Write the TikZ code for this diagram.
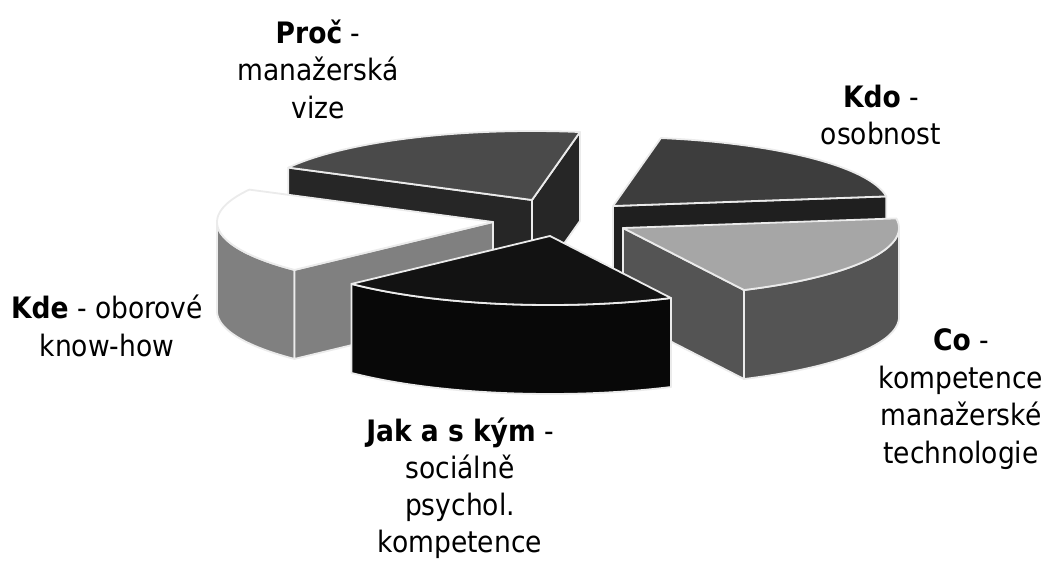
\documentclass[tikz,border=0pt]{standalone}
\usepackage{fontspec}
\setmainfont{DejaVu Sans Condensed}
\begin{document}
\begin{tikzpicture}[x=1pt,y=-1pt,
  pieedge/.style={draw=black!8,line width=1.8pt,line join=round},
  kdotop/.style={pieedge,fill=black!76},
  kdoside/.style={pieedge,fill=black!88},
  proctop/.style={pieedge,fill=black!71},
  procside/.style={pieedge,fill=black!85},
  kdetop/.style={pieedge,fill=white},
  kdeside/.style={pieedge,fill=black!50},
  jaktop/.style={pieedge,fill=black!93},
  jakside/.style={pieedge,fill=black!97},
  cotop/.style={pieedge,fill=black!35},
  coside/.style={pieedge,fill=black!67},
  lbl/.style={align=center,font=\fontsize{29.5}{37.5}\selectfont,inner sep=0pt}
]
\useasboundingbox (0,0) rectangle (1048,561);
\def\rx{276}\def\ry{69}\def\hh{89}
% ---- Proc (80..152), apex (532,200)
\filldraw[procside] (532,200) -- ({532+\rx*cos(80)},{200-\ry*sin(80)}) -- ({532+\rx*cos(80)},{200+\hh-\ry*sin(80)}) -- (532,200+\hh) -- cycle;
\filldraw[procside] (532,200) -- ({532+\rx*cos(152)},{200-\ry*sin(152)}) -- ({532+\rx*cos(152)},{200+\hh-\ry*sin(152)}) -- (532,200+\hh) -- cycle;
\filldraw[proctop] (532,200) -- plot[domain=80:152,samples=40] ({532+\rx*cos(\x)},{200-\ry*sin(\x)}) -- cycle;
% ---- Kdo (8..80), apex (613,206)
\filldraw[kdoside] (613,206) -- ({613+\rx*cos(8)},{206-\ry*sin(8)}) -- ({613+\rx*cos(8)},{206+\hh-\ry*sin(8)}) -- (613,206+\hh) -- cycle;
\filldraw[kdotop] (613,206) -- plot[domain=8:80,samples=40] ({613+\rx*cos(\x)},{206-\ry*sin(\x)}) -- cycle;
% ---- Kde (152..224), apex (493,222)
\filldraw[kdeside] plot[domain=180:224,samples=30] ({493+\rx*cos(\x)},{222-\ry*sin(\x)}) -- plot[domain=224:180,samples=30] ({493+\rx*cos(\x)},{222+\hh-\ry*sin(\x)}) -- cycle;
\filldraw[kdeside] (493,222) -- ({493+\rx*cos(224)},{222-\ry*sin(224)}) -- ({493+\rx*cos(224)},{222+\hh-\ry*sin(224)}) -- (493,222+\hh) -- cycle;
\filldraw[kdetop] (493,222) -- plot[domain=152:224,samples=40] ({493+\rx*cos(\x)},{222-\ry*sin(\x)}) -- cycle;
% ---- Co (296..368), apex (623,228)
\filldraw[coside] plot[domain=296:360,samples=40] ({623+\rx*cos(\x)},{228-\ry*sin(\x)}) -- plot[domain=360:296,samples=40] ({623+\rx*cos(\x)},{228+\hh-\ry*sin(\x)}) -- cycle;
\filldraw[coside] (623,228) -- ({623+\rx*cos(296)},{228-\ry*sin(296)}) -- ({623+\rx*cos(296)},{228+\hh-\ry*sin(296)}) -- (623,228+\hh) -- cycle;
\filldraw[cotop] (623,228) -- plot[domain=296:368,samples=40] ({623+\rx*cos(\x)},{228-\ry*sin(\x)}) -- cycle;
% ---- Jak a s kym (224..296), apex (550,236)
\filldraw[jakside] plot[domain=224:296,samples=40] ({550+\rx*cos(\x)},{236-\ry*sin(\x)}) -- plot[domain=296:224,samples=40] ({550+\rx*cos(\x)},{236+\hh-\ry*sin(\x)}) -- cycle;
\filldraw[jaktop] (550,236) -- plot[domain=224:296,samples=40] ({550+\rx*cos(\x)},{236-\ry*sin(\x)}) -- cycle;
% ---- labels
\node[lbl] (proc) at (318,69) {\textbf{Proč} -\\manažerská\\vize};
\node[lbl] (kdo) at (881,115) {\textbf{Kdo} -\\osobnost};
\node[lbl] (kde) at (107,326) {\textbf{Kde} - oborové\\know-how};
\node[lbl] (co) at (961,399) {\textbf{Co} -\\kompetence\\manažerské\\technologie};
\node[lbl,font=\fontsize{29.5}{37}\selectfont] (jak) at (460,488) {\textbf{Jak a s kým} -\\sociálně\\psychol.\\kompetence};
\end{tikzpicture}
\end{document}
